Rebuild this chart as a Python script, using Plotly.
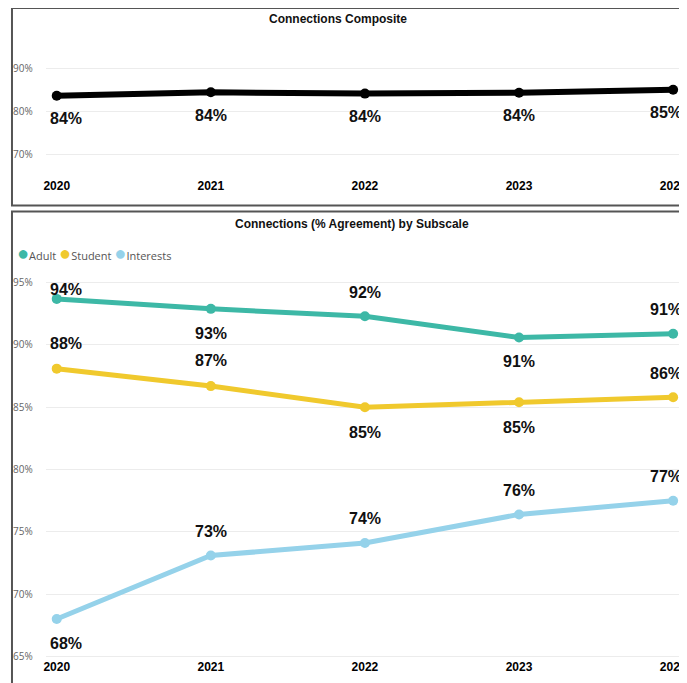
import plotly.graph_objects as go

years = [2020, 2021, 2022, 2023, 2024]

composite = [83.6, 84.4, 84.1, 84.3, 85.0]
composite_labels = ["84%", "84%", "84%", "84%", "85%"]

adult = [93.7, 92.9, 92.3, 90.6, 90.9]
adult_labels = ["94%", "93%", "92%", "91%", "91%"]
student = [88.1, 86.7, 85.0, 85.4, 85.8]
student_labels = ["88%", "87%", "85%", "85%", "86%"]
interests = [68.0, 73.1, 74.1, 76.4, 77.5]
interests_labels = ["68%", "73%", "74%", "76%", "77%"]

# the page body has an 8px margin, so the figure sits 8px in from the top-left;
# the capture also comes out slightly squeezed vertically, hence KY
OFF = 8
KY = 1.008
W, H = 687 - OFF, 683


def px_x(p):
    return (p - OFF) / W


def px_y(p):
    return 1 - (p * KY - OFF) / H


LABEL_FONT = dict(family="Liberation Sans, Arial", size=16, color="#111111", weight="bold")

fig = go.Figure()

# top panel: composite
fig.add_trace(go.Scatter(
    x=years, y=composite, mode="lines+markers",
    line=dict(color="#000000", width=6), marker=dict(size=10, color="#000000"),
    xaxis="x", yaxis="y", showlegend=False, hoverinfo="skip",
))

subscales = [
    ("Adult", adult, adult_labels, "#3db8a6", [-9, 24, -24, 24, -24]),
    ("Student", student, student_labels, "#f0c92d", [-25, -25, 25, 25, -24]),
    ("Interests", interests, interests_labels, "#95d2ea", [24, -24, -24, -24, -24]),
]

legend_parts = []
for name, vals, labels, color, shifts in subscales:
    fig.add_trace(go.Scatter(
        x=years, y=vals, mode="lines+markers",
        line=dict(color=color, width=5), marker=dict(size=10, color=color),
        xaxis="x2", yaxis="y2", showlegend=False, hoverinfo="skip",
    ))
    legend_parts.append(
        f'<span style="color:{color};font-size:20px">●</span>{name}'
    )
    for i, (yr, v, lab) in enumerate(zip(years, vals, labels)):
        xs = 9 if i == 0 else (-7 if i == len(years) - 1 else 0)
        fig.add_annotation(x=yr, y=v, xref="x2", yref="y2", text=lab,
                           showarrow=False, yshift=-shifts[i] * KY, xshift=xs,
                           font=LABEL_FONT)

for i, (yr, v, lab) in enumerate(zip(years, composite, composite_labels)):
    xs = 9 if i == 0 else (-7 if i == len(years) - 1 else 0)
    fig.add_annotation(x=yr, y=v, xref="x", yref="y", text=lab,
                       showarrow=False, yshift=-23 * KY, xshift=xs, font=LABEL_FONT)

xcommon = dict(
    range=[2019.929, 2024.077], tickvals=years, ticktext=[str(y) for y in years],
    showgrid=False, zeroline=False, showline=False, ticks="",
    ticklabeloverflow="allow",
    tickfont=dict(family="Liberation Sans, Arial", size=12, color="#000000", weight="bold"),
    domain=[px_x(44), 1],
)
ycommon = dict(
    showgrid=True, gridcolor="#ececec", gridwidth=1, zeroline=False, showline=False,
    ticks="", ticksuffix="%", ticklabelstandoff=12,
    tickfont=dict(family="Segoe UI, Open Sans", size=10, color="#666666"),
)

fig.update_layout(
    width=W, height=H,
    margin=dict(l=0, r=0, t=0, b=0),
    paper_bgcolor="white", plot_bgcolor="white",
    xaxis=dict(**xcommon, anchor="y"),
    yaxis=dict(**ycommon, range=[64.65, 96.51], dtick=10,
               domain=[px_y(177), px_y(40)], anchor="x"),
    xaxis2=dict(**xcommon, anchor="y2"),
    yaxis2=dict(**ycommon, range=[64.84, 95.97], dtick=5,
                domain=[px_y(657), px_y(270)], anchor="x2"),
    showlegend=False,
    hovermode=False,
)

# legend row (circle + name)
fig.add_annotation(x=px_x(13), y=px_y(252), xref="paper", yref="paper",
                   xanchor="left", yanchor="middle", showarrow=False,
                   text=" ".join(legend_parts),
                   font=dict(family="Segoe UI, Open Sans", size=11, color="#555555"))

# panel titles
fig.add_annotation(x=px_x(338), y=px_y(19), xref="paper", yref="paper",
                   xanchor="center", yanchor="middle",
                   text="<b>Connections Composite</b>", showarrow=False,
                   font=dict(family="Liberation Sans, Arial", size=12, color="#111111"))
fig.add_annotation(x=px_x(352), y=px_y(223), xref="paper", yref="paper",
                   xanchor="center", yanchor="middle",
                   text="<b>Connections (% Agreement) by Subscale</b>", showarrow=False,
                   font=dict(family="Liberation Sans, Arial", size=12, color="#111111"))

# panel borders
fig.add_shape(type="rect", xref="paper", yref="paper",
              x0=px_x(10), x1=1.02, y0=px_y(205), y1=px_y(8),
              line=dict(color="#555555", width=2))
fig.add_shape(type="rect", xref="paper", yref="paper",
              x0=px_x(10), x1=1.02, y0=-0.05, y1=px_y(211),
              line=dict(color="#555555", width=2))

fig.write_html("out.html")
